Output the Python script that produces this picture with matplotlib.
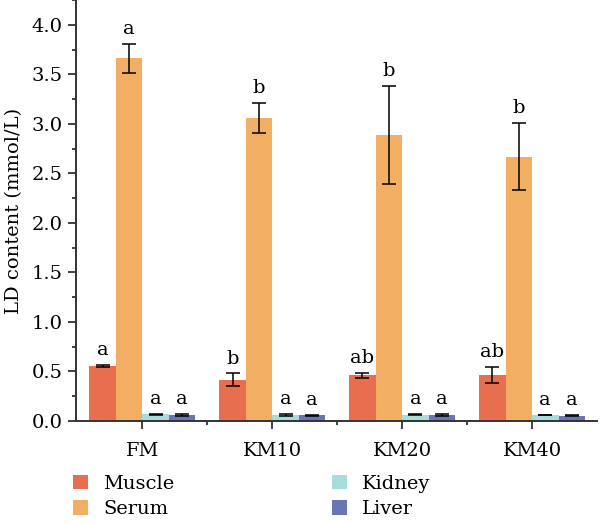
import numpy as np
import matplotlib
matplotlib.use('Agg')
import matplotlib.pyplot as plt
from matplotlib.ticker import MultipleLocator, FixedLocator

plt.rcParams['font.family'] = 'DejaVu Serif'

groups = ['FM', 'KM10', 'KM20', 'KM40']
tissues = ['Muscle', 'Serum', 'Kidney', 'Liver']
colors = ['#E86E50', '#F2AE62', '#A6DCDC', '#6A75B6']

means = {
    'Muscle': [0.555, 0.415, 0.46, 0.465],
    'Serum':  [3.66, 3.06, 2.885, 2.67],
    'Kidney': [0.067, 0.06, 0.065, 0.06],
    'Liver':  [0.06, 0.058, 0.065, 0.055],
}
errs = {
    'Muscle': [0.01, 0.065, 0.025, 0.085],
    'Serum':  [0.145, 0.155, 0.495, 0.335],
    'Kidney': [0.004, 0.01, 0.008, 0.003],
    'Liver':  [0.01, 0.006, 0.01, 0.005],
}
letters = {
    'Muscle': ['a', 'b', 'ab', 'ab'],
    'Serum':  ['a', 'b', 'b', 'b'],
    'Kidney': ['a', 'a', 'a', 'a'],
    'Liver':  ['a', 'a', 'a', 'a'],
}

fig = plt.figure(figsize=(6, 5.23), dpi=100)
ax = fig.add_axes([0.127, 0.195, 0.868, 0.805])

x = np.arange(len(groups))
w = 0.204
for i, t in enumerate(tissues):
    xs = x + (i - 1.5) * w
    ax.bar(xs, means[t], w, color=colors[i], label=t, zorder=2)
    ax.errorbar(xs, means[t], yerr=errs[t], fmt='none', ecolor='black',
                elinewidth=1.1, capsize=5, capthick=1.1, zorder=3)
    for xi, m, e, lab in zip(xs, means[t], errs[t], letters[t]):
        ax.text(xi, m + e + 0.06, lab, ha='center', va='bottom', fontsize=14)

ax.set_xlim(-0.51, 3.5)
ax.set_ylim(0, 4.25)
ax.set_xticks(x)
ax.set_xticklabels(groups, fontsize=14)
ax.xaxis.set_minor_locator(FixedLocator([0.5, 1.5, 2.5]))
ax.yaxis.set_major_locator(MultipleLocator(0.5))
ax.yaxis.set_minor_locator(MultipleLocator(0.25))
ax.set_yticks(np.arange(0, 4.01, 0.5))
ax.set_yticklabels(['%.1f' % v for v in np.arange(0, 4.01, 0.5)], fontsize=14)
ax.tick_params(which='major', length=6, width=1.3, color='#333333', pad=4)
ax.tick_params(axis='x', which='major', pad=9)
ax.tick_params(which='minor', length=3, width=1.3, color='#333333')
ax.set_ylabel('LD content (mmol/L)', fontsize=14, labelpad=6)
for s in ['top', 'right']:
    ax.spines[s].set_visible(False)
for s in ['left', 'bottom']:
    ax.spines[s].set_linewidth(1.4)
    ax.spines[s].set_color('#333333')

fig.legend(loc='upper left', bbox_to_anchor=(0.122, 0.092), ncol=2, frameon=False,
           fontsize=14, handlelength=0.75, handleheight=0.75, handletextpad=0.8,
           columnspacing=8.1, labelspacing=0.38, borderpad=0, borderaxespad=0)

fig.savefig('out.png', dpi=100)
